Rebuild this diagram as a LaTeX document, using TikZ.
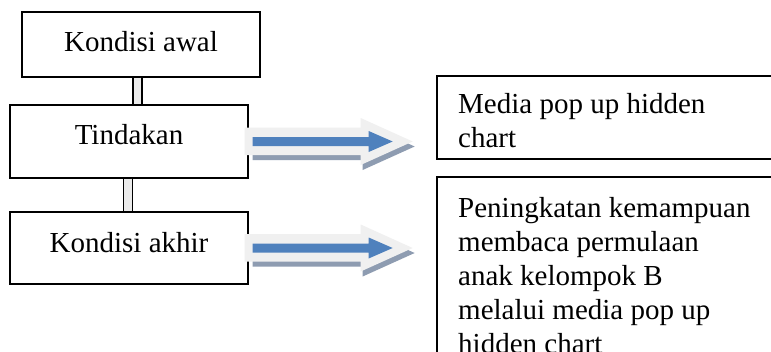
\documentclass[tikz,border=0pt]{standalone}
\usepackage{fontspec}
\setmainfont{Liberation Serif}
\definecolor{arrowblue}{HTML}{4F81BD}
\definecolor{arrowlight}{HTML}{F0F0F0}
\definecolor{arrowshadow}{HTML}{8E9CB1}
\tikzset{
  box/.style={draw, line width=1.3pt, inner sep=0pt, minimum width=238pt, align=center},
  link/.style={double=black!8, double distance=7.5pt, line width=1.3pt},
  sidebox/.style={draw, line width=1.3pt},
  sidetext/.style={anchor=base west, inner sep=0pt, align=left},
}
\newcommand{\blockarrow}[1]{%
  \begin{scope}[shift={(#1)}]
    \fill[arrowshadow] (4,-9) -- (114,-9) -- (114,-18.5) -- (166,5) -- (114,28.5) -- (114,18.5) -- (4,18.5) -- cycle;
    \fill[arrowlight] (-4,-14) -- (112,-14) -- (112,-23.5) -- (164,0) -- (112,23.5) -- (112,13.5) -- (-4,13.5) -- cycle;
    \fill[arrowblue] (4,-4.5) -- (120,-4.5) -- (120,-10.5) -- (144,0) -- (120,10.5) -- (120,4.5) -- (4,4.5) -- cycle;
  \end{scope}}
\begin{document}
\begin{tikzpicture}[x=1pt,y=-1pt]
\fontsize{29}{34}\selectfont
\useasboundingbox (0,0) rectangle (771,351);
\clip (0,0) rectangle (771,351);
\fill[white] (0,0) rectangle (771,351);
% left column
\node[box, text height=39pt, text depth=26pt] (awal) at (141,44.5) {Kondisi awal};
\node[box, text height=39pt, text depth=34pt] (tind) at (129,141.5) {Tindakan};
\node[box, text height=40pt, text depth=32pt] (akhir) at (129,248) {Kondisi akhir};
\coordinate (c1) at (137.5,0);
\coordinate (c2) at (128,0);
\draw[link] (awal.south -| c1) -- (tind.north -| c1);
\draw[link] (tind.south -| c2) -- (akhir.north -| c2);
% arrows
\blockarrow{tind.east}
\blockarrow{akhir.east}
% right boxes (cut by the picture edge)
\draw[sidebox] (800,76) -- (437,76) -- (437,159) -- (800,159);
\draw[sidebox] (800,177) -- (437,177) -- (437,400);
% base anchor of a multi-line node = baseline of its last line
\node[sidetext] (media) at (458,147) {Media pop up hidden\\chart};
\node[sidetext] (hasil) at (458,353) {Peningkatan kemampuan\\membaca permulaan\\anak kelompok B\\melalui media pop up\\hidden chart};
\end{tikzpicture}
\end{document}
